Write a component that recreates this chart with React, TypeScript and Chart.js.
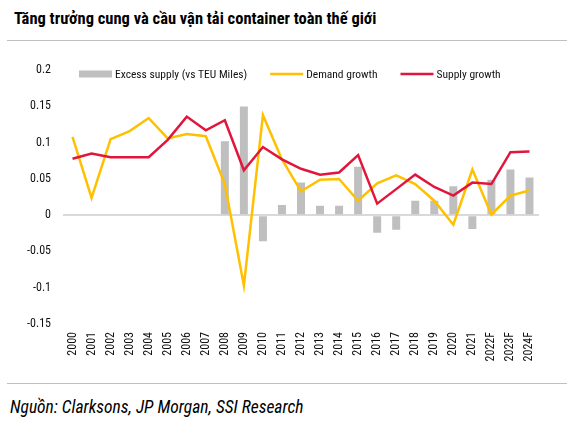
import React, { useEffect, useRef } from "react";
import { Chart, registerables } from "chart.js";

Chart.register(...registerables);

const categories = [
  "2000", "2001", "2002", "2003", "2004", "2005", "2006", "2007", "2008", "2009",
  "2010", "2011", "2012", "2013", "2014", "2015", "2016", "2017", "2018", "2019",
  "2020", "2021", "2022F", "2023F", "2024F",
];

const excessSupply = [
  null, null, null, null, null, null, null, null, 0.102, 0.150,
  -0.036, 0.014, 0.045, 0.013, 0.013, 0.067, -0.024, -0.020, 0.020, 0.020,
  0.040, -0.019, 0.049, 0.063, 0.052,
];

const demandGrowth = [
  0.108, 0.024, 0.105, 0.116, 0.134, 0.106, 0.112, 0.109, 0.043, -0.097,
  0.138, 0.077, 0.033, 0.049, 0.050, 0.020, 0.044, 0.055, 0.043, 0.020,
  -0.013, 0.063, 0.001, 0.027, 0.034,
];

const supplyGrowth = [
  0.078, 0.085, 0.080, 0.080, 0.080, 0.104, 0.136, 0.117, 0.131, 0.062,
  0.094, 0.077, 0.064, 0.056, 0.059, 0.083, 0.016, 0.036, 0.056, 0.039,
  0.027, 0.045, 0.043, 0.087, 0.088,
];

const seriesNames = ["Excess supply (vs TEU Miles)", "Demand growth", "Supply growth"];
const yTicks = [-0.15, -0.1, -0.05, 0, 0.05, 0.1, 0.15, 0.2];

const FONT = '"Liberation Sans Narrow", "Arial Narrow", "Roboto Condensed", "Liberation Sans", Arial, sans-serif';
const GRAY = "#bfbfbf";
const YELLOW = "#ffc000";
const RED = "#e0163c";

const legendPlugin = {
  id: "customLegend",
  afterDraw(chart: any) {
    const ctx = chart.ctx;
    const area = chart.chartArea;
    const y = 23;
    let x = area.left + 16;
    ctx.save();
    ctx.font = `11.5px ${FONT}`;
    ctx.textBaseline = "middle";
    const items = [
      { kind: "box", color: GRAY, text: seriesNames[0] },
      { kind: "line", color: YELLOW, text: seriesNames[1] },
      { kind: "line", color: RED, text: seriesNames[2] },
    ];
    items.forEach((it) => {
      if (it.kind === "box") {
        ctx.fillStyle = it.color;
        ctx.fillRect(x, y - 3.5, 33, 7);
      } else {
        ctx.strokeStyle = it.color;
        ctx.lineWidth = 2.5;
        ctx.beginPath();
        ctx.moveTo(x, y);
        ctx.lineTo(x + 33, y);
        ctx.stroke();
      }
      x += 36;
      ctx.fillStyle = "#111";
      ctx.textAlign = "left";
      ctx.fillText(it.text, x, y + 1);
      x += ctx.measureText(it.text).width + 23;
    });
    ctx.restore();
  },
};

function ChartView() {
  const ref = useRef<HTMLCanvasElement | null>(null);
  useEffect(() => {
    if (!ref.current) return;
    const chart = new Chart(ref.current, {
      type: "bar",
      data: {
        labels: categories,
        datasets: [
          {
            type: "line",
            label: seriesNames[1],
            data: demandGrowth,
            borderColor: YELLOW,
            backgroundColor: YELLOW,
            borderWidth: 2.5,
            pointRadius: 0,
            tension: 0,
            order: 1,
          },
          {
            type: "line",
            label: seriesNames[2],
            data: supplyGrowth,
            borderColor: RED,
            backgroundColor: RED,
            borderWidth: 2.5,
            pointRadius: 0,
            tension: 0,
            order: 0,
          },
          {
            type: "bar",
            label: seriesNames[0],
            data: excessSupply as any,
            backgroundColor: GRAY,
            borderWidth: 0,
            barPercentage: 0.42,
            categoryPercentage: 1,
            order: 2,
          },
        ],
      },
      options: {
        animation: false,
        responsive: false,
        maintainAspectRatio: false,
        devicePixelRatio: 1,
        layout: { padding: { top: 19, right: 33, left: 0, bottom: 0 } },
        plugins: {
          legend: { display: false },
          tooltip: { enabled: false },
        },
        scales: {
          x: {
            offset: true,
            grid: { display: false, drawTicks: false },
            border: { display: false },
            ticks: {
              minRotation: 90,
              maxRotation: 90,
              autoSkip: false,
              padding: 8,
              color: "#111",
              font: { family: FONT, size: 12 },
            },
            afterFit: (s: any) => {
              s.height = 57;
            },
          },
          y: {
            min: -0.15,
            max: 0.2,
            afterBuildTicks: (s: any) => {
              s.ticks = yTicks.map((v) => ({ value: v }));
            },
            grid: {
              drawTicks: false,
              color: (c: any) => (c.tick && Math.abs(c.tick.value) < 1e-9 ? "#d9d9d9" : "rgba(0,0,0,0)"),
              lineWidth: (c: any) => (c.tick && Math.abs(c.tick.value) < 1e-9 ? 2 : 0),
            },
            border: { display: false },
            ticks: {
              padding: 12,
              color: "#111",
              font: { family: FONT, size: 12 },
              callback: (v: any) => String(Number(Number(v).toFixed(2))),
            },
            afterFit: (s: any) => {
              s.width = 63;
            },
          },
        },
      },
      plugins: [legendPlugin],
    });
    return () => chart.destroy();
  }, []);
  return <canvas ref={ref} width={572} height={330} style={{ position: "absolute", left: 0, top: 51, width: 572, height: 330 }} />;
}

export default function App() {
  return (
    <div style={{ position: "fixed", left: 0, top: 0, width: 572, height: 423, background: "#fff", overflow: "hidden" }}>
      <div
        style={{
          position: "absolute",
          left: 14,
          top: 8,
          fontFamily: FONT,
          fontWeight: "bold",
          fontSize: 16.5,
          lineHeight: "22px",
          color: "#000",
          whiteSpace: "nowrap",
        }}
      >
        Tăng trưởng cung và cầu vận tải container toàn thế giới
      </div>
      <div style={{ position: "absolute", left: 7, top: 40, width: 560, height: 0, borderTop: "1.5px solid #c0c0c0" }} />
      <ChartView />
      <div style={{ position: "absolute", left: 7, top: 383, width: 560, height: 0, borderTop: "1.5px solid #c0c0c0" }} />
      <div
        style={{
          position: "absolute",
          left: 10,
          top: 396,
          fontFamily: FONT,
          fontStyle: "italic",
          fontSize: 17.5,
          lineHeight: "22px",
          color: "#000",
          whiteSpace: "nowrap",
        }}
      >
        Nguồn: Clarksons, JP Morgan, SSI Research
      </div>
    </div>
  );
}
